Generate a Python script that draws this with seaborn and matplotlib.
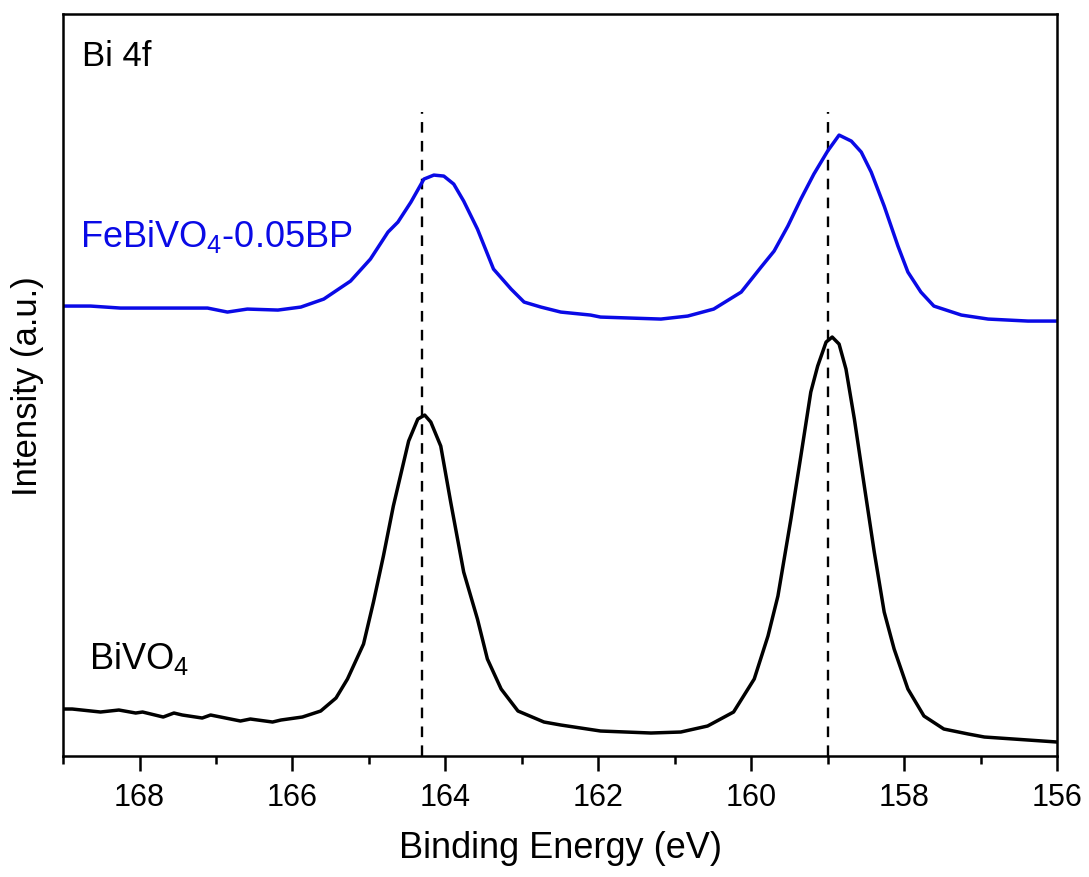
import numpy as np
import pandas as pd
import matplotlib
matplotlib.use("Agg")
import matplotlib.pyplot as plt
import seaborn as sns

# Bi 4f XPS spectra (arbitrary units)
bivo4_energy = [169.0, 168.88, 168.51, 168.27, 168.05, 167.96, 167.69, 167.55, 167.44,
                167.18, 167.07, 166.68, 166.55, 166.26, 166.15, 165.87, 165.63, 165.43,
                165.28, 165.07, 164.94, 164.81, 164.68, 164.48, 164.36, 164.27, 164.19,
                164.06, 163.93, 163.76, 163.58, 163.45, 163.27, 163.05, 162.71, 162.49,
                162.23, 161.97, 161.31, 160.92, 160.57, 160.23, 159.96, 159.78, 159.65,
                159.48, 159.35, 159.22, 159.13, 159.02, 158.94, 158.85, 158.76, 158.65,
                158.52, 158.39, 158.26, 158.13, 157.95, 157.74, 157.48, 157.16, 156.95,
                156.38, 156.0]
bivo4_intensity = [47, 47, 44, 46, 43, 44, 39, 43, 41,
                   38, 41, 35, 37, 34, 36, 39, 45, 58,
                   77, 112, 154, 200, 250, 315, 337, 341, 334,
                   310, 254, 184, 137, 97, 67, 45, 34, 31,
                   28, 25, 23, 24, 30, 44, 77, 120, 160,
                   237, 300, 364, 390, 414, 419, 412, 387, 337,
                   270, 204, 144, 107, 67, 40, 27, 22, 19,
                   16, 14]

febivo4_energy = [169.0, 168.64, 168.25, 167.73, 167.11, 166.85, 166.59, 166.19, 165.89,
                  165.59, 165.24, 164.98, 164.75, 164.62, 164.45, 164.28, 164.15, 164.02,
                  163.89, 163.76, 163.58, 163.37, 163.14, 162.97, 162.75, 162.49, 162.10,
                  161.97, 161.18, 160.83, 160.49, 160.13, 159.87, 159.70, 159.52, 159.35,
                  159.18, 159.0, 158.85, 158.69, 158.56, 158.43, 158.26, 158.08, 157.95,
                  157.78, 157.61, 157.25, 156.90, 156.38, 156.0]
febivo4_intensity = [450, 450, 448, 448, 448, 444, 447, 446, 449,
                     457, 475, 497, 524, 534, 554, 577, 581, 580,
                     572, 555, 527, 487, 467, 454, 449, 444, 441,
                     439, 437, 440, 447, 464, 489, 505, 530, 557,
                     582, 605, 621, 615, 604, 584, 550, 510, 484,
                     464, 450, 441, 437, 435, 435]

peak_positions = [164.3, 159.0]
peak_line_top = 644
sample_names = ["BiVO$_4$", "FeBiVO$_4$-0.05BP"]
sample_colors = ["black", "#0a0ae6"]


def main():
    sns.set_style("ticks")
    plt.rcParams["font.family"] = ["Liberation Sans", "DejaVu Sans"]
    plt.rcParams["mathtext.default"] = "regular"
    plt.rcParams["text.color"] = "black"
    plt.rcParams["axes.labelcolor"] = "black"
    plt.rcParams["xtick.color"] = "black"

    df = pd.concat([
        pd.DataFrame({"Energy": bivo4_energy, "Intensity": bivo4_intensity,
                      "Sample": sample_names[0]}),
        pd.DataFrame({"Energy": febivo4_energy, "Intensity": febivo4_intensity,
                      "Sample": sample_names[1]}),
    ])

    fig = plt.figure(figsize=(10.89, 8.78), dpi=100)
    ax = fig.add_axes([0.0579, 0.1378, 0.9127, 0.845])

    sns.lineplot(data=df, x="Energy", y="Intensity", hue="Sample",
                 palette=dict(zip(sample_names, sample_colors)),
                 sort=False, estimator=None, linewidth=2.5, legend=False, ax=ax)
    for line in ax.lines:
        line.set_solid_joinstyle("round")

    ax.vlines(peak_positions, 0, peak_line_top, colors="black",
              linestyles=(0, (4.5, 3.5)), linewidth=1.7, zorder=1)

    ax.set_xlim(169, 156)
    ax.set_ylim(0, 742)
    ax.set_xticks([168, 166, 164, 162, 160, 158, 156])
    ax.set_xticks(np.arange(157, 170, 2), minor=True)
    ax.set_yticks([])

    for side in ["top", "bottom", "left", "right"]:
        ax.spines[side].set_visible(True)
        ax.spines[side].set_linewidth(1.8)
        ax.spines[side].set_color("black")

    ax.tick_params(axis="x", which="major", direction="out", length=11, width=1.8,
                   labelsize=22, pad=8, colors="black")
    ax.tick_params(axis="x", which="minor", direction="out", length=6, width=1.8)

    ax.set_xlabel("Binding Energy (eV)", fontsize=26, labelpad=13)
    ax.set_ylabel("Intensity (a.u.)", fontsize=25, labelpad=14)

    ax.text(0.019, 0.932, "Bi 4f", transform=ax.transAxes, fontsize=25,
            ha="left", va="baseline")
    ax.text(0.017, 0.687, sample_names[1], transform=ax.transAxes, fontsize=26,
            color=sample_colors[1], ha="left", va="baseline")
    ax.text(0.026, 0.119, sample_names[0], transform=ax.transAxes, fontsize=26,
            color=sample_colors[0], ha="left", va="baseline")

    fig.savefig("out.png", dpi=100)


if __name__ == "__main__":
    main()
